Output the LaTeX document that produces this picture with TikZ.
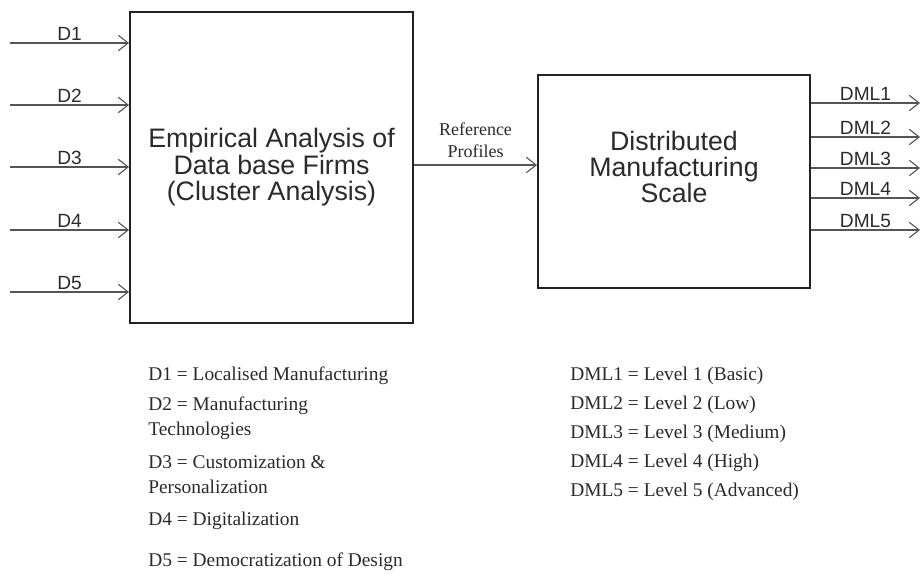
\documentclass[tikz,border=0pt]{standalone}
\usepackage{fontspec}
\setmainfont{Liberation Serif}
\setsansfont{Liberation Sans}
\usetikzlibrary{arrows.meta}
\definecolor{inkline}{HTML}{555555}
\definecolor{inkbox}{HTML}{222222}
\definecolor{inktext}{HTML}{2A2A2A}
\begin{document}
\begin{tikzpicture}[x=0.025cm, y=-0.025cm]
    % Define styles
    \tikzset{
        mainbox/.style={draw=inkbox, line width=1.4pt, align=center, text=inktext, font=\sffamily\fontsize{19}{18.8}\selectfont, inner sep=0pt},
        boxtext/.style={align=center, text=inktext, font=\sffamily\fontsize{19}{18.8}\selectfont, inner sep=0pt},
        flowarrow/.style={draw=inkline, line width=0.9pt, -{Straight Barb[length=7pt, width=11pt, line width=0.8pt]}},
        dlabel/.style={font=\sffamily\fontsize{13.6}{14}\selectfont, text=inktext, inner sep=1.5pt},
        legend/.style={anchor=west, align=left, font=\fontsize{13.8}{17.8}\selectfont, text=inktext, inner sep=0pt}
    }
    \useasboundingbox (0,0) rectangle (920,586);

    % Boxes
    \node[mainbox, minimum width=283*0.025cm, minimum height=311*0.025cm] (analysis) at (271.5,167.5)
        {Empirical Analysis of\\Data base Firms\\(Cluster Analysis)};
    \node[mainbox, minimum width=272*0.025cm, minimum height=213*0.025cm] (scale) at (674,181.5) {};
    \node[boxtext] (scaletext) at (674,167) {Distributed\\Manufacturing\\Scale};

    % Inputs D1..D5
    \foreach \i/\y in {1/43, 2/105, 3/167, 4/230, 5/292} {
        \coordinate (d\i) at (10,\y);
        \draw[flowarrow] (d\i) -- node[dlabel, above] {D\i} (d\i -| analysis.west);
    }

    % Reference profiles
    \draw[flowarrow] (analysis.east |- 0,165) -- node[above, align=center, font=\fontsize{12.8}{15.6}\selectfont, text=inktext, inner sep=5pt] {Reference\\Profiles} (scale.west |- 0,165);

    % Outputs DML1..DML5
    \foreach \i/\y in {1/103, 2/137, 3/168, 4/198, 5/230} {
        \coordinate (dml\i) at (920,\y);
        \draw[flowarrow] (dml\i -| scale.east) -- node[dlabel, above] {DML\i} (dml\i);
    }

    % Legend
    \node[legend] (leg1) at (148,376) {D1 = Localised Manufacturing};
    \node[legend, anchor=north west] (leg2) at (148,397) {D2 = Manufacturing\\Technologies};
    \node[legend, anchor=north west] (leg3) at (148,455) {D3 = Customization \&\\Personalization};
    \node[legend] (leg4) at (148,521) {D4 = Digitalization};
    \node[legend] (leg5) at (148,562) {D5 = Democratization of Design};

    \node[legend] (lvl1) at (570,376) {DML1 = Level 1 (Basic)};
    \node[legend] (lvl2) at (570,405) {DML2 = Level 2 (Low)};
    \node[legend] (lvl3) at (570,434) {DML3 = Level 3 (Medium)};
    \node[legend] (lvl4) at (570,463) {DML4 = Level 4 (High)};
    \node[legend] (lvl5) at (570,492) {DML5 = Level 5 (Advanced)};
\end{tikzpicture}
\end{document}
